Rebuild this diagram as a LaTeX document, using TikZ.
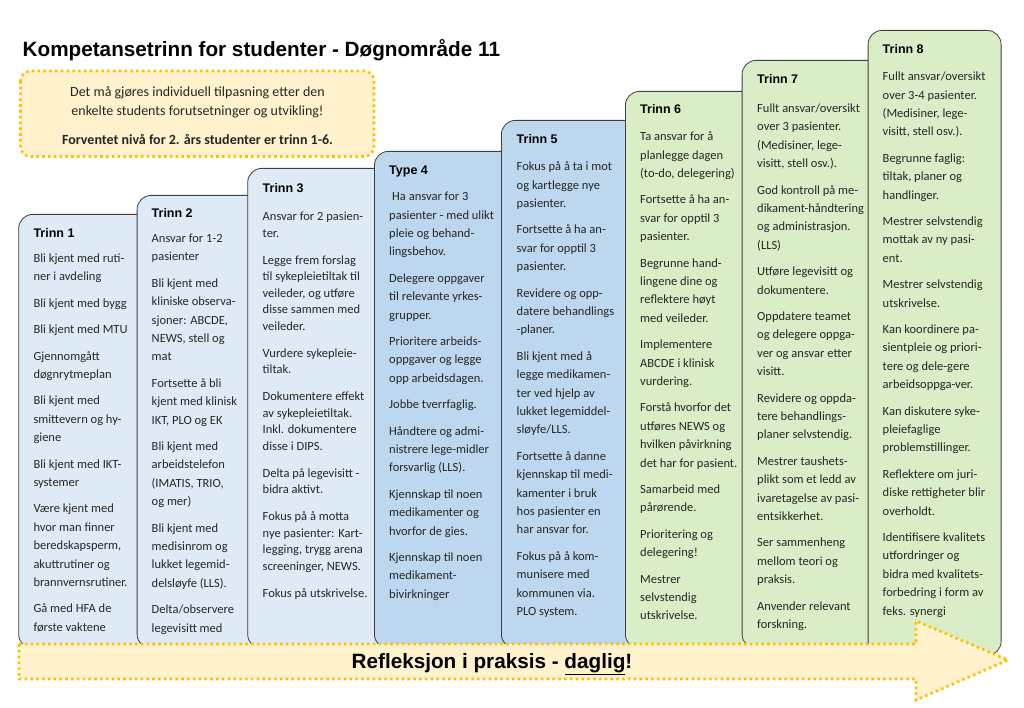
\documentclass[tikz,border=0pt]{standalone}
\usepackage{fontspec}
\setmainfont{Carlito}
\newfontfamily\headfont{Liberation Sans}
\definecolor{lblue}{HTML}{DEEBF7}
\definecolor{mblue}{HTML}{BDD7EE}
\definecolor{lgreen}{HTML}{D9EEC7}
\definecolor{colborder}{HTML}{404040}
\definecolor{dotc}{HTML}{FFC000}
\definecolor{yel}{HTML}{FFF2CC}
\definecolor{txt}{HTML}{262626}
\tikzset{
  col/.style={draw=colborder, line width=0.8pt, rounded corners=14pt, anchor=north west, inner sep=0pt, minimum height=434pt},
  hdr/.style={anchor=base west, inner sep=0pt, text=black, font=\headfont\bfseries\fontsize{12.5}{15}\selectfont},
  body/.style={anchor=north west, inner sep=0pt, align=left, text=txt, font=\fontsize{12.5}{18.4}\selectfont},
  tightbody/.style={body, font=\fontsize{12.5}{16.6}\selectfont},
  dotbox/.style={draw=dotc, line width=2.6pt, dash pattern=on 2.6pt off 3.2pt, fill=yel}
}
\newcommand{\fl}{\rule{0pt}{10pt}}
\begin{document}
\begin{tikzpicture}[x=1pt,y=-1pt]
\useasboundingbox (0,0) rectangle (1024,708);
\fill[white] (0,0) rectangle (1024,708);

% title
\node[anchor=base west, inner sep=0pt, font=\headfont\bfseries\fontsize{20.7}{24}\selectfont] (title) at (22.5,56.5) {Kompetansetrinn for studenter - Døgnområde 11};

% info box
\draw[dotbox, rounded corners=10pt] (20.5,71) rectangle (374,156.5);
\node[anchor=north, inner sep=0pt, align=center, text=txt, font=\fontsize{14}{19}\selectfont] (info) at (197.5,85) {\rule{0pt}{11pt}Det må gjøres individuell tilpasning etter den\\enkelte students forutsetninger og utvikling!\\[10pt]\textbf{Forventet nivå for 2. års studenter er trinn 1-6.}};

% columns
\node[col, fill=lblue, minimum width=139pt] (c1) at (18.3,214) {};
\node[col, fill=lblue, minimum width=131pt, minimum height=453pt] (c2) at (136.7,195) {};
\node[col, fill=lblue, minimum width=147pt, minimum height=480pt] (c3) at (247.3,168) {};
\node[col, fill=mblue, minimum width=147pt, minimum height=497pt] (c4) at (374,151) {};
\node[col, fill=mblue, minimum width=144pt, minimum height=528pt] (c5) at (501,120) {};
\node[col, fill=lgreen, minimum width=137pt, minimum height=557pt] (c6) at (625,91) {};
\node[col, fill=lgreen, minimum width=146pt, minimum height=588pt] (c7) at (741.7,60) {};
\node[col, fill=lgreen, minimum width=133pt, minimum height=625pt] (c8) at (867.7,30) {};

% headers
\node[hdr] (h1) at (33.3,237.5) {Trinn 1};
\node[hdr] (h2) at (151.5,217.5) {Trinn 2};
\node[hdr] (h3) at (262.5,192.2) {Trinn 3};
\node[hdr] (h4) at (389,174.8) {Type 4};
\node[hdr] (h5) at (516.5,143.8) {Trinn 5};
\node[hdr] (h6) at (640,113.8) {Trinn 6};
\node[hdr] (h7) at (757,83.8) {Trinn 7};
\node[hdr] (h8) at (882.5,53.8) {Trinn 8};

% bodies
\node[body] (b1) at (33.3,252.2) {\fl Bli kjent med ruti-\\ner i avdeling\\[8pt]Bli kjent med bygg\\[8pt]Bli kjent med MTU\\[8pt]Gjennomgått\\døgnrytmeplan\\[8pt]Bli kjent med\\smittevern og hy-\\giene\\[8pt]Bli kjent med IKT-\\systemer\\[8pt]Være kjent med\\hvor man finner\\beredskapsperm,\\akuttrutiner og\\brannvernsrutiner.\\[8pt]Gå med HFA de\\første vaktene};

\node[body] (b2) at (151.5,232.2) {\fl Ansvar for 1-2\\pasienter\\[8pt]Bli kjent med\\kliniske observa-\\sjoner: ABCDE,\\NEWS, stell og\\mat\\[8pt]Fortsette å bli\\kjent med klinisk\\IKT, PLO og EK\\[8pt]Bli kjent med\\arbeidstelefon\\(IMATIS, TRIO,\\og mer)\\[8pt]Bli kjent med\\medisinrom og\\lukket legemid-\\delsløyfe (LLS).\\[8pt]Delta/observere\\legevisitt med};

\node[tightbody] (b3) at (262.5,210.5) {\fl Ansvar for 2 pasien-\\ter.\\[10.2pt]Legge frem forslag\\til sykepleietiltak til\\veileder, og utføre\\disse sammen med\\veileder.\\[10.2pt]Vurdere sykepleie-\\tiltak.\\[10.2pt]Dokumentere effekt\\av sykepleietiltak.\\Inkl. dokumentere\\disse i DIPS.\\[10.2pt]Delta på legevisitt -\\bidra aktivt.\\[10.2pt]Fokus på å motta\\nye pasienter: Kart-\\legging, trygg arena\\screeninger, NEWS.\\[10.2pt]Fokus på utskrivelse.};

\node[body] (b4) at (389,190.5) {\fl\hspace{3pt}Ha ansvar for 3\\pasienter - med ulikt\\pleie og behand-\\lingsbehov.\\[8pt]Delegere oppgaver\\til relevante yrkes-\\grupper.\\[8pt]Prioritere arbeids-\\oppgaver og legge\\opp arbeidsdagen.\\[8pt]Jobbe tverrfaglig.\\[8pt]Håndtere og admi-\\nistrere lege-midler\\forsvarlig (LLS).\\[8pt]Kjennskap til noen\\medikamenter og\\hvorfor de gies.\\[8pt]Kjennskap til noen\\medikament-\\bivirkninger};

\node[body] (b5) at (516.5,160.5) {\fl Fokus på å ta i mot\\og kartlegge nye\\pasienter.\\[8pt]Fortsette å ha an-\\svar for opptil 3\\pasienter.\\[8pt]Revidere og opp-\\datere behandlings\\-planer.\\[8pt]Bli kjent med å\\legge medikamen-\\ter ved hjelp av\\lukket legemiddel-\\sløyfe/LLS.\\[8pt]Fortsette å danne\\kjennskap til medi-\\kamenter i bruk\\hos pasienter en\\har ansvar for.\\[8pt]Fokus på å kom-\\munisere med\\kommunen via.\\PLO system.};

\node[body] (b6) at (640,130.5) {\fl Ta ansvar for å\\planlegge dagen\\(to-do, delegering)\\[8pt]Fortsette å ha an-\\svar for opptil 3\\pasienter.\\[8pt]Begrunne hand-\\lingene dine og\\reflektere høyt\\med veileder.\\[8pt]Implementere\\ABCDE i klinisk\\vurdering.\\[8pt]Forstå hvorfor det\\utføres NEWS og\\hvilken påvirkning\\det har for pasient.\\[8pt]Samarbeid med\\pårørende.\\[8pt]Prioritering og\\delegering!\\[8pt]Mestrer\\selvstendig\\utskrivelse.};

\node[body] (b7) at (757,102.2) {\fl Fullt ansvar/oversikt\\over 3 pasienter.\\(Medisiner, lege-\\visitt, stell osv.).\\[8pt]God kontroll på me-\\dikament-håndtering\\og administrasjon.\\(LLS)\\[8pt]Utføre legevisitt og\\dokumentere.\\[8pt]Oppdatere teamet\\og delegere oppga-\\ver og ansvar etter\\visitt.\\[8pt]Revidere og oppda-\\tere behandlings-\\planer selvstendig.\\[8pt]Mestrer taushets-\\plikt som et ledd av\\ivaretagelse av pasi-\\entsikkerhet.\\[8pt]Ser sammenheng\\mellom teori og\\praksis.\\[8pt]Anvender relevant\\forskning.};

\node[body] (b8) at (882.5,70.5) {\fl Fullt ansvar/oversikt\\over 3-4 pasienter.\\(Medisiner, lege-\\visitt, stell osv.).\\[8pt]Begrunne faglig:\\tiltak, planer og\\handlinger.\\[8pt]Mestrer selvstendig\\mottak av ny pasi-\\ent.\\[8pt]Mestrer selvstendig\\utskrivelse.\\[8pt]Kan koordinere pa-\\sientpleie og priori-\\tere og dele-gere\\arbeidsoppga-ver.\\[8pt]Kan diskutere syke-\\pleiefaglige\\problemstillinger.\\[8pt]Reflektere om juri-\\diske rettigheter blir\\overholdt.\\[8pt]Identifisere kvalitets\\utfordringer og\\bidra med kvalitets-\\forbedring i form av\\feks. synergi};

% arrow
\draw[dotbox] (19,644) -- (916,644) -- (916,621) -- (1008,660) -- (916,700) -- (916,679) -- (19,679) -- cycle;
\node[anchor=base, inner sep=0pt, text=black, font=\headfont\bfseries\fontsize{20.7}{24}\selectfont] (arrtxt) at (492,668.5) {Refleksjon i praksis - \underline{daglig}!};
\end{tikzpicture}
\end{document}
